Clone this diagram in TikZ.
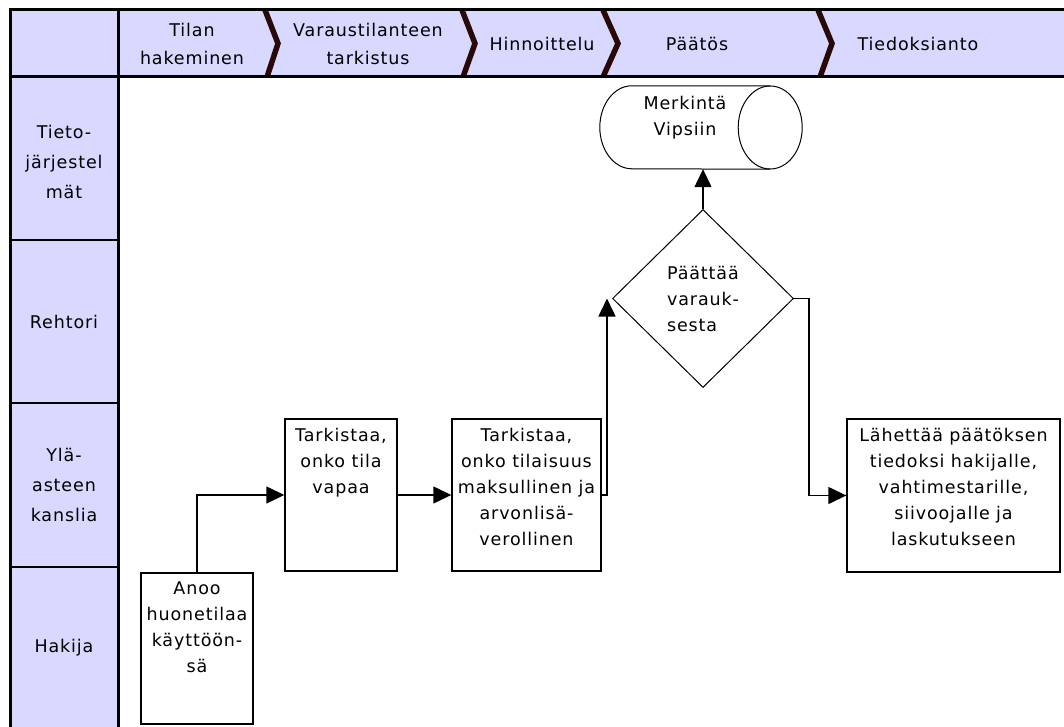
\documentclass[tikz,border=0pt]{standalone}
\usepackage{fontspec}
\setmainfont{DejaVu Sans}[LetterSpace=5]
\usetikzlibrary{shapes.geometric,arrows.meta,calc}
\definecolor{lav}{RGB}{217,217,255}
\definecolor{chev}{RGB}{40,8,8}
\newcommand{\boxtxt}[4]{\parbox[c][#2][t]{#1}{\centering\rule{0pt}{#3}#4}}
\begin{document}
\begin{tikzpicture}[x=1pt,y=-1pt,
  font=\fontsize{17.5pt}{26pt}\selectfont,
  proc/.style={draw, line width=1.4pt, fill=white, inner sep=0pt},
  arr/.style={line width=1.4pt, -{Triangle[length=18pt,width=17pt]}},
  chevst/.style={line width=5.5pt, draw=chev},
  hdr/.style={align=center, inner sep=0pt, font=\fontsize{17.5pt}{28pt}\selectfont},
  lane/.style={align=center, inner sep=0pt, font=\fontsize{17.5pt}{30pt}\selectfont},
  frame/.style={line width=3pt, draw=black}]
\useasboundingbox (0,0) rectangle (1064,727);
\clip (0,0) rectangle (1064,727);
\fill[white] (0,0) rectangle (1064,727);
% header and lane column
\fill[lav] (10,10) rectangle (1075,77);
\fill[lav] (10,77) rectangle (118,740);
\draw[chevst] (265,10) -- (278,43.5) -- (267,77);
\draw[chevst] (462,10) -- (475,43.5) -- (463,77);
\draw[chevst] (603,10) -- (618,43.5) -- (603,77);
\draw[chevst] (818,10) -- (832,43.5) -- (820,77);
\draw[frame] (10,740) -- (10,10) -- (1075,10);
\draw[frame] (10,77) -- (1075,77);
\draw[frame] (118,10) -- (118,740);
\draw[line width=1.2pt] (10,240) -- (118,240);
\draw[line width=1.2pt] (10,403) -- (118,403);
\draw[line width=1.2pt] (10,567) -- (118,567);
% header texts
\node[hdr] (h1) at (192,43.5) {Tilan\\hakeminen};
\node[hdr] (h2) at (368,43.5) {Varaustilanteen\\tarkistus};
\node[hdr] (h3) at (542,43.5) {Hinnoittelu};
\node[hdr] (h4) at (697,43.5) {Päätös};
\node[hdr] (h5) at (918,43.5) {Tiedoksianto};
% lane labels
\node[lane] (l1) at (64,162) {Tieto-\\järjestel\\mät};
\node[lane] (l2) at (64,322) {Rehtori};
\node[lane] (l3) at (64,485) {Ylä-\\asteen\\kanslia};
\node[lane] (l4) at (64,648) {Hakija};
% process nodes
\node[proc, minimum width=112pt, minimum height=151pt] (anoo) at (197,648.5)
  {\boxtxt{106pt}{151pt}{21pt}{Anoo\\huonetilaa\\käyttöön-\\sä}};
\node[proc, minimum width=112pt, minimum height=152pt] (t1) at (341,495)
  {\boxtxt{106pt}{152pt}{22pt}{Tarkistaa,\\onko tila\\vapaa}};
\node[proc, minimum width=149pt, minimum height=152pt] (t2) at (526.5,495)
  {\boxtxt{145pt}{152pt}{22pt}{Tarkistaa,\\onko tilaisuus\\maksullinen ja\\arvonlisä-\\verollinen}};
\node[proc, minimum width=213pt, minimum height=153pt] (b3) at (953.5,495.5)
  {\boxtxt{209pt}{153pt}{22pt}{Lähettää päätöksen\\tiedoksi hakijalle,\\vahtimestarille,\\siivoojalle ja\\laskutukseen}};
\node[draw, diamond, line width=1pt, fill=white, minimum width=181pt, minimum height=178pt,
  inner sep=0pt, align=left] (dia) at (703,298.5) {Päättää\\varauk-\\sesta};
% stored data (horizontal cylinder)
\node[inner sep=0pt, minimum width=202pt, minimum height=83pt] (db) at (701,127.5) {};
\draw[line width=1pt] ($(db.north east)+(-32,0)$) -- ($(db.north west)+(32,0)$)
  arc[start angle=90, end angle=270, x radius=32pt, y radius=41.5pt]
  -- ($(db.south east)+(-32,0)$);
\draw[line width=1pt] ($(db.east)+(-32,0)$) ellipse[x radius=32pt, y radius=41.5pt];
\node[anchor=north, inner sep=0pt] (dbtext) at (685,86)
  {\parbox[t]{120pt}{\centering\rule{0pt}{23pt}Merkintä\\Vipsiin}};
% connectors
\coordinate (c1) at ($(dia.west)+(-5,0)$);
\draw[arr] (anoo.north) |- (t1.west);
\draw[arr] (t1.east) -- (t2.west);
\draw[arr] (t2.east) -| (c1);
\draw[arr] (dia.north) -- (dia.north |- db.south);
\draw[arr] (dia.east) -- ++(15,0) |- (b3.west);
\end{tikzpicture}
\end{document}
